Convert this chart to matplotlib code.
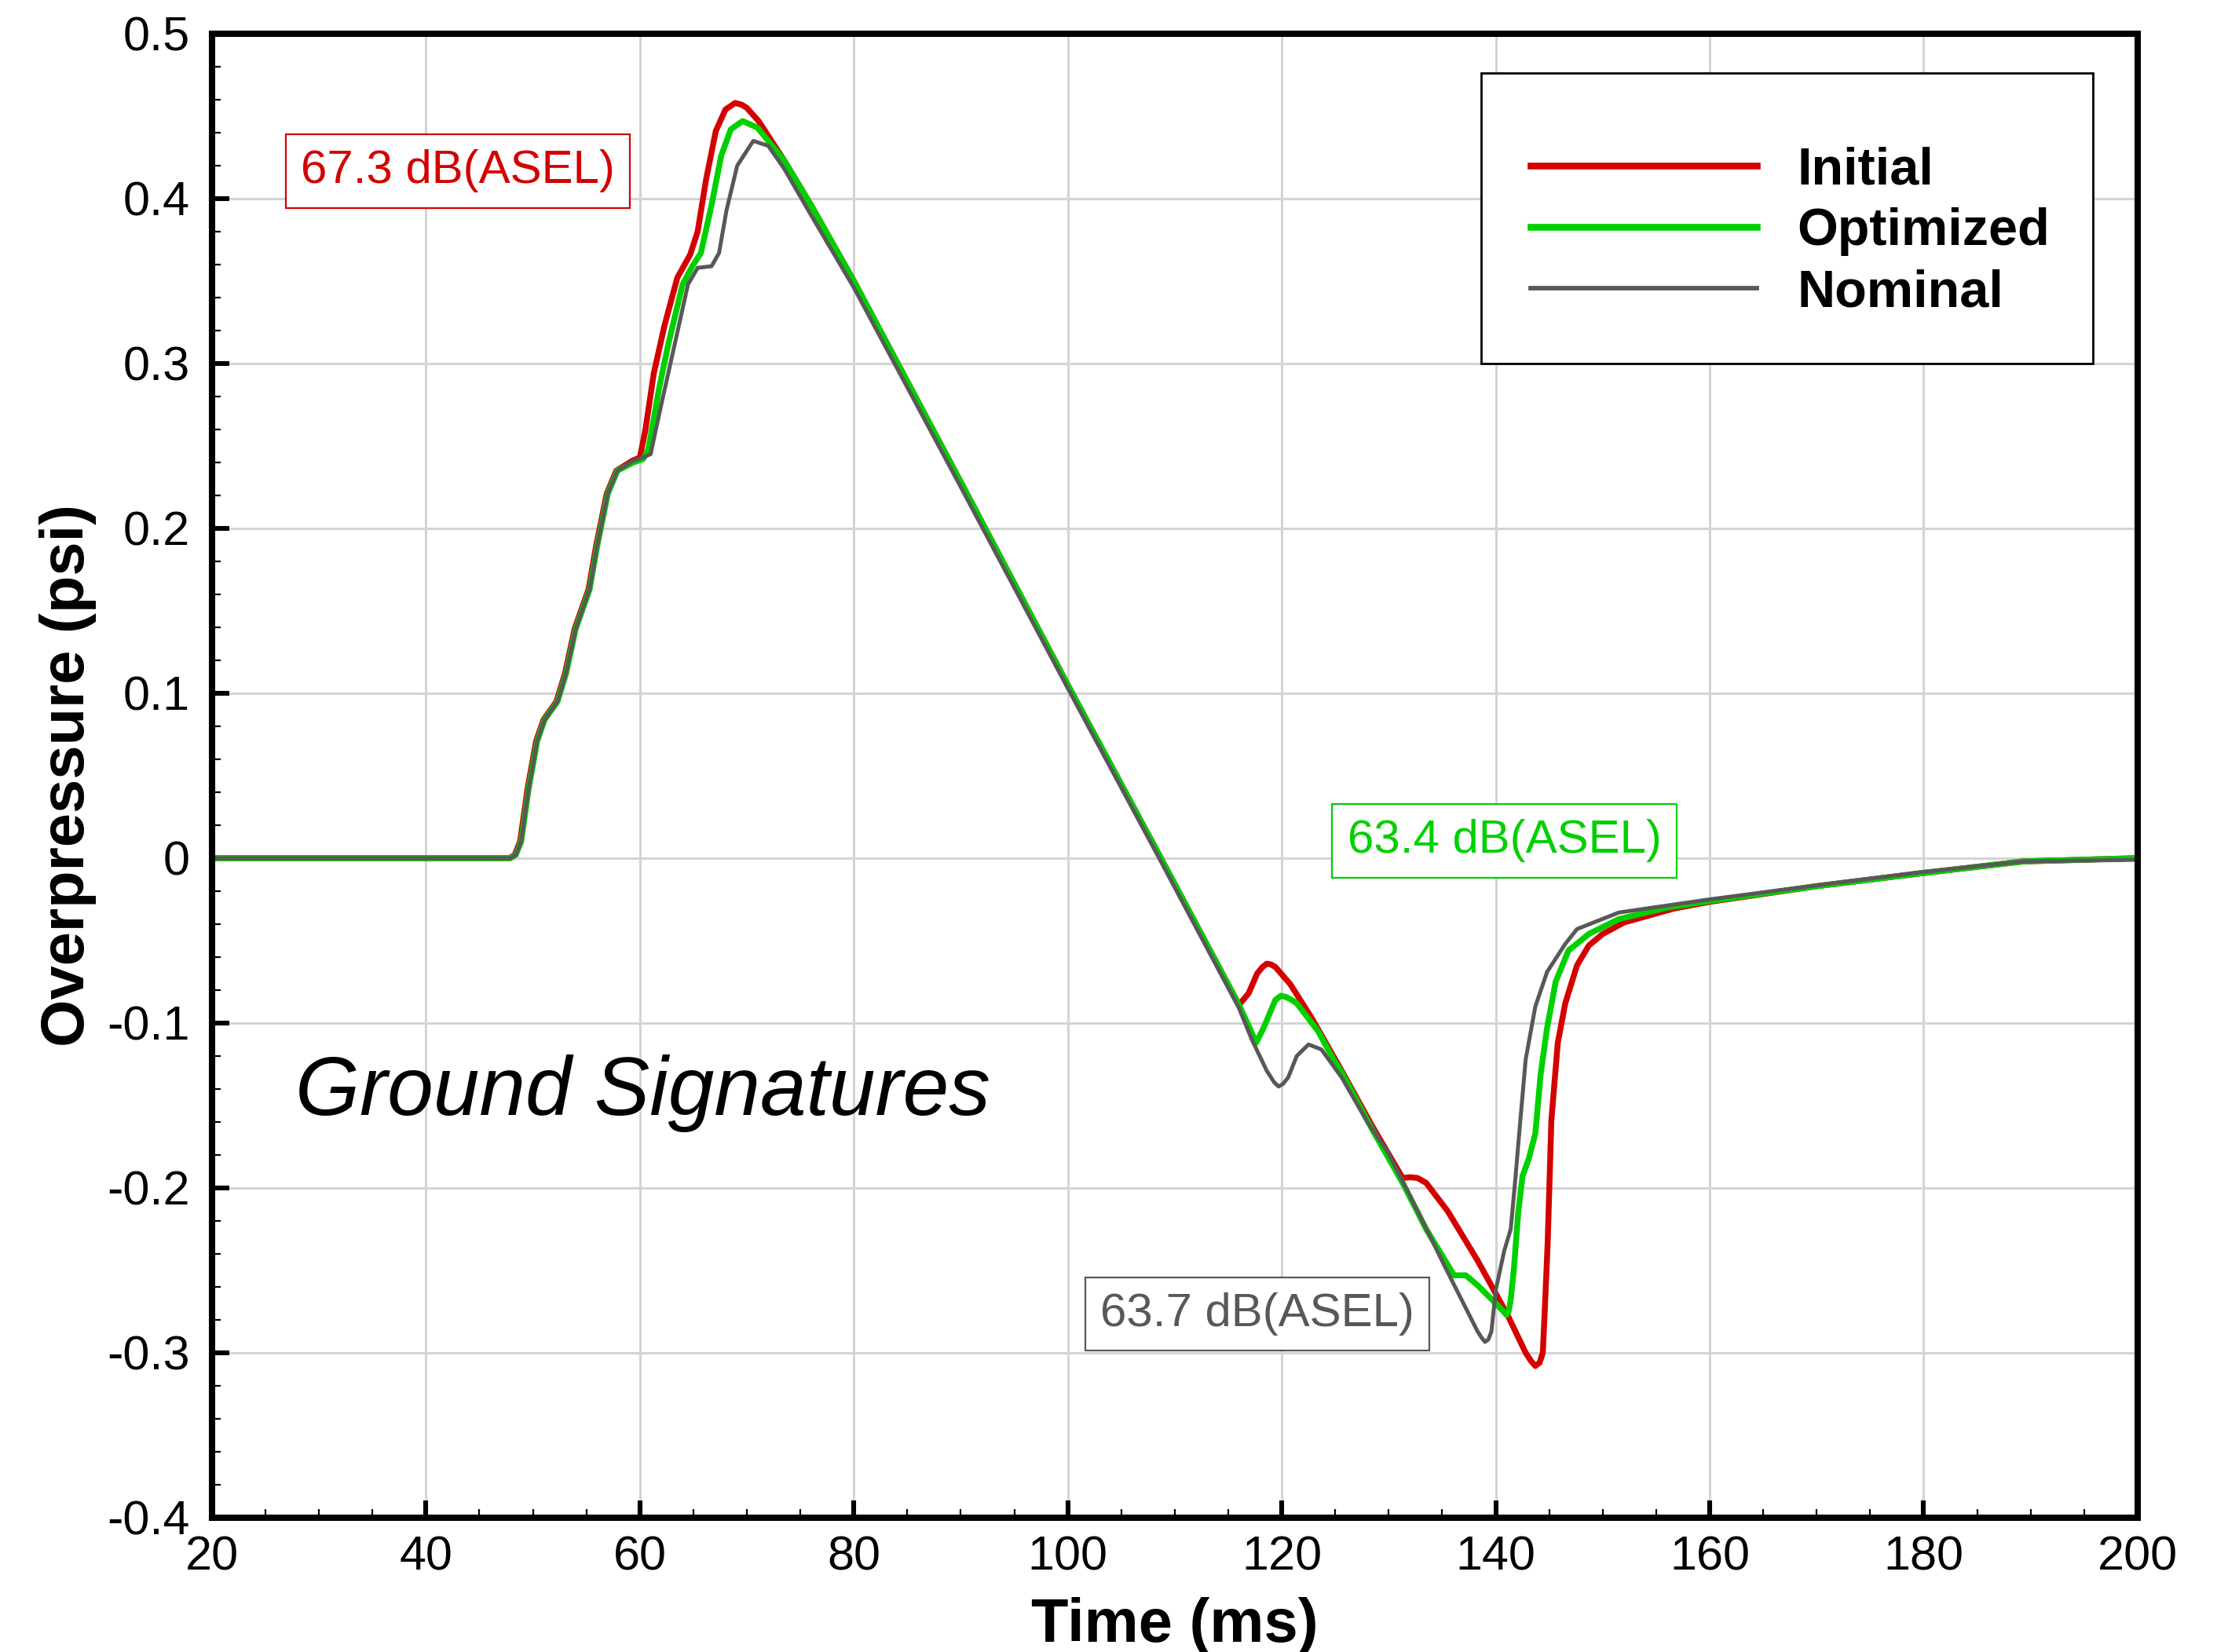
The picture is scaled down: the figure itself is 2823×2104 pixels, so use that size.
import matplotlib.pyplot as plt
from matplotlib.patches import Rectangle
from matplotlib.ticker import MultipleLocator

plt.rcParams['font.family'] = ['Liberation Sans', 'DejaVu Sans']
plt.rcParams['axes.unicode_minus'] = False

# Datos (tiempo en ms, sobrepresion en psi)
t_initial = [20, 47.8, 48.3, 48.8, 49.5, 50.3, 51.0, 52.2, 53.0, 53.9, 55.2, 55.9, 56.9, 57.8, 59.3,
             60.0, 60.5, 61.3, 62.3, 63.5, 64.7, 65.4, 66.2, 67.1, 68.0, 68.9, 69.5, 70.0, 71.1, 73.5,
             76.0, 80.0, 90.0, 100.0, 108.7, 116.0, 116.9, 117.7, 118.2, 118.6, 119.0, 119.4, 120.8, 122.8,
             125.6, 128.5, 131.3, 132.0, 132.7, 133.5, 135.5, 138.3, 141.1, 142.8, 143.3, 143.7, 144.1, 144.4, 144.6,
             144.85, 145.2, 145.8, 146.5, 147.6, 148.7, 150.0, 152.0, 156.7, 160, 170, 180, 189.3, 200]
p_initial = [0, 0, 0.002, 0.010, 0.042, 0.071, 0.084, 0.095, 0.112, 0.139, 0.163, 0.189, 0.221, 0.235, 0.241,
             0.243, 0.259, 0.294, 0.323, 0.352, 0.366, 0.380, 0.412, 0.441, 0.454, 0.458, 0.457, 0.455, 0.447, 0.423,
             0.396, 0.350, 0.228, 0.105, 0.0, -0.089, -0.082, -0.070, -0.066, -0.064, -0.0645, -0.066, -0.0765, -0.097,
             -0.129, -0.163, -0.194, -0.1935, -0.194, -0.197, -0.214, -0.244, -0.277, -0.300, -0.305, -0.308, -0.306, -0.300, -0.272,
             -0.234, -0.159, -0.112, -0.088, -0.065, -0.053, -0.046, -0.039, -0.0305, -0.0265, -0.017, -0.009, -0.002, 0.0]

t_optimized = [20, 47.9, 48.4, 48.9, 49.6, 50.4, 51.1, 52.3, 53.1, 54.0, 55.3, 56.0, 57.0, 57.9, 59.4,
               60.3, 60.8, 61.8, 62.7, 64.0, 64.9, 65.7, 66.7, 67.6, 68.5, 69.6, 71.0, 73.5, 76.0,
               80.0, 90.0, 100.0, 108.7, 116.0, 117.0, 117.6, 118.3, 119.4, 119.9, 120.3, 120.8, 121.4, 123.4,
               124.8, 125.6, 128.5, 131.3, 133.5, 136.1, 137.2, 138.3, 140.0, 140.6, 141.0, 141.2, 141.4, 141.7,
               142.1, 142.5, 143.1, 143.7, 144.2, 144.8, 145.6, 146.8, 148.7, 151.5, 156.0, 160,
               170, 180, 189.3, 200]
p_optimized = [0, 0, 0.002, 0.010, 0.042, 0.071, 0.084, 0.095, 0.112, 0.139, 0.163, 0.189, 0.221, 0.235, 0.240,
               0.242, 0.248, 0.285, 0.313, 0.348, 0.359, 0.367, 0.396, 0.426, 0.442, 0.447, 0.443, 0.423, 0.396,
               0.350, 0.228, 0.105, 0.0, -0.089, -0.103, -0.112, -0.103, -0.086, -0.0835, -0.084, -0.0855, -0.088, -0.105,
               -0.1216, -0.130, -0.165, -0.197, -0.225, -0.253, -0.253, -0.259, -0.270, -0.274, -0.277, -0.275, -0.268, -0.249,
               -0.215, -0.193, -0.182, -0.167, -0.131, -0.103, -0.075, -0.056, -0.046, -0.037, -0.030, -0.026,
               -0.017, -0.009, -0.002, 0.0]

t_nominal = [20, 47.9, 48.4, 48.9, 49.6, 50.4, 51.1, 52.3, 53.1, 54.0, 55.3, 56.0, 57.0, 57.9, 59.4,
             60.3, 61.0, 62.0, 63.2, 64.5, 65.4, 66.7, 67.4, 68.1, 69.1, 70.6, 72.0, 73.5, 76.0,
             80.0, 90.0, 100.0, 108.7, 116.0, 117.2, 118.6, 119.3, 119.7, 120.1, 120.6, 121.4, 122.5, 123.7,
             125.6, 128.0, 129.9, 132.0, 135.5, 138.3, 138.7, 139.0, 139.3, 139.6, 140.0, 140.8, 141.4, 141.8,
             142.3, 142.8, 143.7, 144.8, 146.5, 147.6, 151.5, 160, 170, 180, 189.3, 200]
p_nominal = [0, 0, 0.002, 0.010, 0.042, 0.071, 0.084, 0.095, 0.112, 0.139, 0.163, 0.189, 0.221, 0.235, 0.241,
             0.243, 0.245, 0.275, 0.310, 0.348, 0.358, 0.359, 0.367, 0.393, 0.420, 0.435, 0.432, 0.418, 0.390,
             0.346, 0.225, 0.103, -0.002, -0.091, -0.110, -0.129, -0.136, -0.1385, -0.137, -0.133, -0.120, -0.113, -0.116,
             -0.133, -0.160, -0.178, -0.205, -0.251, -0.287, -0.291, -0.2934, -0.292, -0.287, -0.262, -0.238, -0.225, -0.197,
             -0.159, -0.122, -0.090, -0.069, -0.052, -0.043, -0.033, -0.025, -0.0165, -0.0083, -0.002, -0.001]

series_names = ['Initial', 'Optimized', 'Nominal']
series_colors = ['#d40000', '#00d000', '#585858']
levels_text = ['67.3 dB(ASEL)', '63.4 dB(ASEL)', '63.7 dB(ASEL)']

xticks = list(range(20, 201, 20))
yticks = [0.5, 0.4, 0.3, 0.2, 0.1, 0, -0.1, -0.2, -0.3, -0.4]
ytick_labels = ['0.5', '0.4', '0.3', '0.2', '0.1', '0', '-0.1', '-0.2', '-0.3', '-0.4']

fig = plt.figure(figsize=(14.115, 10.52), dpi=200)
ax = fig.add_axes([0.0956, 0.0813, 0.8686, 0.8983])

# Curvas
ax.plot(t_initial, p_initial, color=series_colors[0], lw=2.7, label=series_names[0], solid_joinstyle='round')
ax.plot(t_optimized, p_optimized, color=series_colors[1], lw=2.7, label=series_names[1], solid_joinstyle='round')
ax.plot(t_nominal, p_nominal, color=series_colors[2], lw=1.8, label=series_names[2], solid_joinstyle='round')

# Ejes
ax.set_xlim(20, 200)
ax.set_ylim(-0.4, 0.5)
ax.set_xticks(xticks)
ax.set_xticklabels([str(v) for v in xticks])
ax.set_yticks(yticks)
ax.set_yticklabels(ytick_labels)
ax.xaxis.set_minor_locator(MultipleLocator(5))
ax.yaxis.set_minor_locator(MultipleLocator(0.02))
ax.tick_params(which='both', direction='in', top=False, right=False, labelsize=22)
ax.tick_params(axis='y', which='major', length=7.9, width=2.2, pad=10)
ax.tick_params(axis='x', which='major', length=7.9, width=2.2, pad=8)
ax.tick_params(which='minor', length=4, width=0.8)
for s in ax.spines.values():
    s.set_linewidth(2.9)
ax.grid(True, which='major', color='#d4d4d4', lw=1.1)
ax.set_axisbelow(True)

ax.set_xlabel('Time (ms)', fontsize=28, fontweight='bold', labelpad=8)
ax.set_ylabel('Overpressure (psi)', fontsize=28, fontweight='bold', labelpad=5)

# Textos
ax.text(27.8, -0.1557, 'Ground Signatures', fontsize=38, style='italic', ha='left', va='baseline')
box = dict(boxstyle='square,pad=0.32', fc='white', lw=0.8)
ax.text(43.0, 0.4167, levels_text[0], fontsize=21.6, color=series_colors[0], ha='center', va='center',
        bbox=dict(box, ec=series_colors[0]))
ax.text(140.8, 0.0105, levels_text[1], fontsize=21.6, color=series_colors[1], ha='center', va='center',
        bbox=dict(box, ec=series_colors[1]))
ax.text(117.7, -0.2765, levels_text[2], fontsize=21.6, color=series_colors[2], ha='center', va='center',
        bbox=dict(box, ec=series_colors[2]))

# Leyenda con marco propio
ax.add_patch(Rectangle((0.659, 0.7778), 0.3178, 0.1957, transform=ax.transAxes,
                       fc='white', ec='black', lw=1.0, zorder=4))
leg = ax.legend(loc='center', bbox_to_anchor=(0.8195, 0.8665), frameon=False, borderpad=0,
                handlelength=4.33, handletextpad=0.76, labelspacing=0.24,
                prop={'size': 24, 'weight': 'bold'})
leg.set_zorder(5)
for line in leg.get_lines():
    line.set_linewidth(line.get_linewidth() * 1.15)

fig.savefig('out.png', dpi=200)
